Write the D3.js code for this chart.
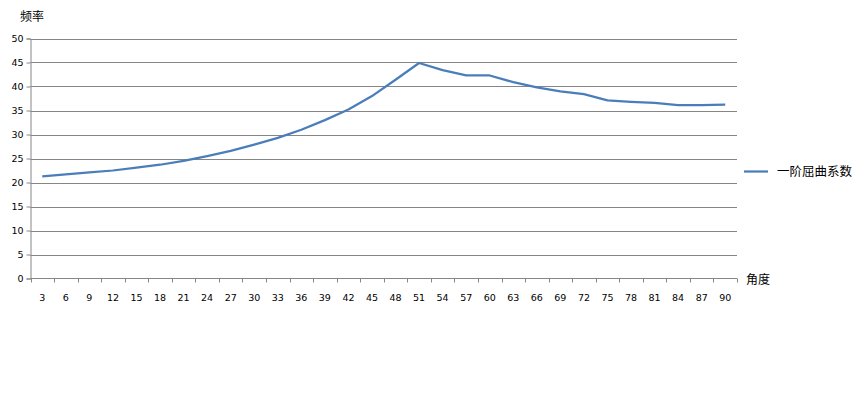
<!DOCTYPE html>
<html><head><meta charset="utf-8">
<script src="https://cdn.jsdelivr.net/npm/d3@7"></script>
<style>body{margin:0;background:#fff}svg{display:block}</style>
</head><body>
<svg id="c" width="858" height="400"></svg>
<script>
const categories = [3,6,9,12,15,18,21,24,27,30,33,36,39,42,45,48,51,54,57,60,63,66,69,72,75,78,81,84,87,90];
const seriesName = "一阶屈曲系数";
const values = [21.3,21.7,22.1,22.5,23.1,23.7,24.5,25.5,26.6,27.9,29.3,31.0,33.0,35.2,38.0,41.4,44.9,43.4,42.3,42.3,40.9,39.8,39.0,38.4,37.1,36.8,36.6,36.1,36.1,36.2];
const yTicks = [0,5,10,15,20,25,30,35,40,45,50];
const yTitle = "频率", xTitle = "角度";

const svg = d3.select("#c");
const L = 30.5, R = 737, T = 38.5, B = 278.5;
const font = "'DejaVu Sans', sans-serif";
const x = d3.scaleBand().domain(categories).range([L, R]);
const y = d3.scaleLinear().domain([0, 50]).range([B, T]);

// gridlines
svg.append("g").selectAll("line").data(yTicks.filter(d => d > 0)).join("line")
  .attr("x1", L).attr("x2", R).attr("y1", d => Math.round(y(d)) + 0.5).attr("y2", d => Math.round(y(d)) + 0.5)
  .attr("stroke", "#868686").attr("stroke-width", 1);

// y axis
const ya = svg.append("g").attr("transform", `translate(${L},0)`)
  .call(d3.axisLeft(y).tickValues(yTicks).tickSize(4).tickPadding(3));
ya.select(".domain").attr("stroke", "#868686");
ya.selectAll(".tick line").attr("stroke", "#868686");
ya.selectAll(".tick text").attr("font-family", font).attr("font-size", 9.5).attr("fill", "#000");

// x axis with ticks at category boundaries
const xa = svg.append("g").attr("transform", `translate(0,${B})`);
xa.append("line").attr("x1", L).attr("x2", R).attr("stroke", "#868686");
const bounds = d3.range(categories.length + 1).map(i => L + i * x.step());
xa.selectAll("line.tk").data(bounds).join("line").attr("class", "tk")
  .attr("x1", d => Math.round(d) + 0.5).attr("x2", d => Math.round(d) + 0.5).attr("y1", 0).attr("y2", 4)
  .attr("stroke", "#868686");
xa.selectAll("text").data(categories).join("text")
  .attr("x", d => x(d) + x.bandwidth() / 2).attr("y", 22)
  .attr("text-anchor", "middle").attr("font-family", font).attr("font-size", 9.5).attr("fill", "#000")
  .text(d => d);

// line
const line = d3.line().x((d, i) => x(categories[i]) + x.bandwidth() / 2).y(d => y(d));
svg.append("path").datum(values).attr("d", line).attr("fill", "none")
  .attr("stroke", "#4a7ebb").attr("stroke-width", 2.25).attr("stroke-linejoin", "round");

// titles
svg.append("text").attr("x", 20).attr("y", 21).attr("font-family", "'Noto Sans CJK SC', sans-serif")
  .attr("font-size", 12).text(yTitle);
svg.append("text").attr("x", 746).attr("y", 284).attr("font-family", "'Noto Sans CJK SC', sans-serif")
  .attr("font-size", 12).text(xTitle);

// legend
svg.append("line").attr("x1", 744).attr("x2", 768).attr("y1", 171.5).attr("y2", 171.5)
  .attr("stroke", "#4a7ebb").attr("stroke-width", 2.25);
svg.append("text").attr("x", 777).attr("y", 176).attr("font-family", "'Noto Sans CJK SC', sans-serif")
  .attr("font-size", 12.5).text(seriesName);
</script>
</body></html>
